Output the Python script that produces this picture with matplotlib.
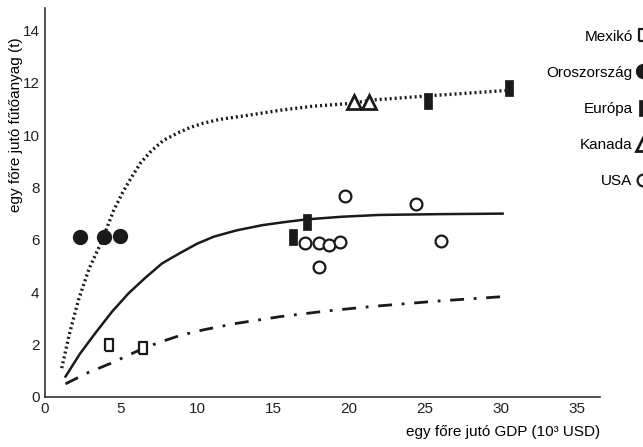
import numpy as np
import matplotlib.pyplot as plt

plt.rcParams['font.family'] = ['Liberation Sans', 'DejaVu Sans']

# curves (GDP in 1000 USD, fuel in t)
dotted_x = [1.1, 1.6, 2.2, 2.9, 3.7, 4.5, 5.1, 5.7, 6.3, 7.0, 7.8, 8.8, 9.6, 10.4,
            11.5, 13.3, 15.5, 17.6, 19.9, 21.8, 25.3, 30.3]
dotted_y = [1.1, 2.4, 3.7, 4.9, 5.9, 7.1, 7.8, 8.4, 8.95, 9.4, 9.8, 10.1, 10.3, 10.45,
            10.6, 10.75, 10.95, 11.1, 11.2, 11.35, 11.5, 11.7]

solid_x = [1.35, 2.3, 3.3, 4.4, 5.5, 6.6, 7.7, 8.9, 10.0, 11.1, 12.6, 14.3, 15.8,
           17.2, 19.5, 22.0, 26.0, 30.1]
solid_y = [0.78, 1.65, 2.43, 3.25, 3.96, 4.55, 5.1, 5.5, 5.85, 6.12, 6.36, 6.56, 6.68,
           6.78, 6.88, 6.95, 6.98, 7.0]

dashdot_x = [1.35, 2.8, 4.4, 5.5, 6.45, 7.5, 8.9, 10.4, 12.5, 15.5, 18.5, 21.4, 25.8, 30.1]
dashdot_y = [0.5, 0.92, 1.3, 1.6, 1.85, 2.08, 2.35, 2.56, 2.8, 3.07, 3.28, 3.45, 3.66, 3.83]

# country points
mex_x = [4.2, 6.45]
mex_y = [2.0, 1.87]
rus_x = [2.3, 3.9, 4.9]
rus_y = [6.1, 6.1, 6.15]
eur_x = [16.3, 17.2, 25.2, 30.5]
eur_y = [6.1, 6.68, 11.3, 11.8]
can_x = [20.3, 21.3]
can_y = [11.25, 11.25]
usa_x = [19.7, 24.4, 17.1, 18.0, 18.7, 19.4, 18.0, 26.05]
usa_y = [7.67, 7.37, 5.88, 5.88, 5.8, 5.9, 4.96, 5.95]

labels = ['Mexikó', 'Oroszország', 'Európa', 'Kanada', 'USA']

ink = '#1a1a1a'
rect_open = [(-0.3, -0.5), (0.3, -0.5), (0.3, 0.5), (-0.3, 0.5), (-0.3, -0.5)]
rect_full = [(-0.27, -0.5), (0.27, -0.5), (0.27, 0.5), (-0.27, 0.5), (-0.27, -0.5)]

fig = plt.figure(figsize=(6.43, 4.47), dpi=100)
ax = fig.add_axes([0.070, 0.112, 0.863, 0.870])

ax.plot(dotted_x, dotted_y, color=ink, lw=2.4, linestyle=(0, (0.6, 0.9)))
ax.plot(solid_x, solid_y, color=ink, lw=1.8)
ax.plot(dashdot_x, dashdot_y, color=ink, lw=2.0, linestyle=(0, (5, 3.5, 1, 3.5)))

h1, = ax.plot(mex_x, mex_y, ls='none', marker=rect_open, ms=9, mfc='white', mec=ink, mew=1.6)
h2, = ax.plot(rus_x, rus_y, ls='none', marker='o', ms=10, mfc=ink, mec=ink)
h3, = ax.plot(eur_x, eur_y, ls='none', marker=rect_full, ms=11, mfc=ink, mec=ink, mew=0.5)
h4, = ax.plot(can_x, can_y, ls='none', marker='^', ms=10, mfc='white', mec=ink, mew=2)
h5, = ax.plot(usa_x, usa_y, ls='none', marker='o', ms=8.5, mfc='white', mec=ink, mew=1.6)

ax.set_xlim(0, 36.5)
ax.set_ylim(0, 14.85)
ax.set_xticks(range(0, 36, 5))
ax.set_yticks(range(0, 15, 2))
ax.tick_params(length=0, labelsize=11, pad=4, colors='#222222')
for s in ['top', 'right']:
    ax.spines[s].set_visible(False)
for s in ['left', 'bottom']:
    ax.spines[s].set_linewidth(1.2)
    ax.spines[s].set_color('#333333')

ax.set_xlabel('egy főre jutó GDP (10³ USD)', fontsize=11, loc='right', labelpad=6)
ax.set_ylabel('egy főre jutó fűtőanyag (t)', fontsize=11)
ax.yaxis.set_label_coords(-0.039, 0.70)

fig.legend([h1, h2, h3, h4, h5], labels, loc='upper left', bbox_to_anchor=(0.838, 0.951),
           markerfirst=False, frameon=False, fontsize=11, labelspacing=1.45,
           handlelength=0.8, handletextpad=0.3, borderpad=0, alignment='right')

fig.savefig('out.png', dpi=100)
